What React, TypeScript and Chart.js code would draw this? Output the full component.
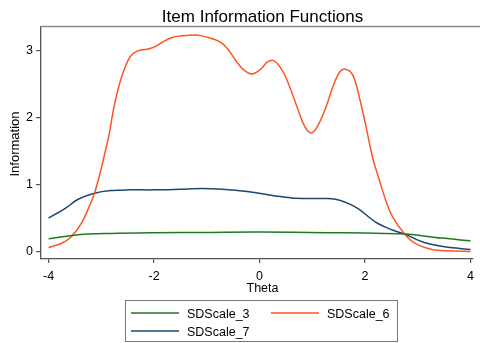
import React, { useEffect, useRef } from "react";
import { Chart, registerables } from "chart.js";

Chart.register(...registerables);

const FONT = "'Liberation Sans', Arial, Helvetica, sans-serif";

const chartTitle = "Item Information Functions";
const xTitle = "Theta";
const yTitle = "Information";
const xTicks = [-4, -2, 0, 2, 4];
const yTicks = [0, 1, 2, 3];

const seriesNames = ["SDScale_3", "SDScale_6", "SDScale_7"];
const seriesColors = ["#1f7a1f", "#ff5522", "#1a476f"];

const theta3 = [-4.0, -3.44, -2.82, -2.0, -1.0, 0.0, 1.27, 2.0, 2.75, 3.45, 4.0];
const info3 = [0.19, 0.25, 0.27, 0.28, 0.285, 0.29, 0.28, 0.275, 0.26, 0.2, 0.16];

const theta6 = [
  -4.0, -3.76, -3.57, -3.38, -3.23, -3.13, -3.04, -2.95, -2.85, -2.76, -2.67, -2.57,
  -2.45, -2.32, -2.13, -2.0, -1.85, -1.67, -1.45, -1.2, -1.0, -0.75, -0.6, -0.45,
  -0.3, -0.14, 0.02, 0.15, 0.27, 0.4, 0.52, 0.71, 0.86, 0.99, 1.12, 1.27, 1.39, 1.52,
  1.63, 1.77, 1.89, 2.02, 2.14, 2.27, 2.39, 2.52, 2.75, 2.95, 3.27, 3.6, 4.0,
];
const info6 = [
  0.06, 0.12, 0.22, 0.42, 0.67, 0.87, 1.12, 1.41, 1.76, 2.16, 2.46, 2.71,
  2.91, 2.99, 3.02, 3.05, 3.12, 3.19, 3.22, 3.23, 3.2, 3.13, 3.02, 2.85,
  2.71, 2.65, 2.72, 2.83, 2.85, 2.74, 2.56, 2.16, 1.86, 1.77, 1.9, 2.18, 2.46, 2.68,
  2.72, 2.63, 2.31, 1.86, 1.41, 1.07, 0.77, 0.52, 0.26, 0.12, 0.03, 0.01, 0.0,
];

const theta7 = [
  -4.0, -3.69, -3.44, -3.13, -2.82, -2.45, -2.0, -1.5, -1.1, -0.7, -0.42, -0.1, 0.3,
  0.6, 1.0, 1.3, 1.5, 1.7, 1.89, 2.2, 2.52, 2.75, 3.14, 3.51, 4.0,
];
const info7 = [
  0.5, 0.64, 0.78, 0.87, 0.91, 0.92, 0.92, 0.93, 0.94, 0.93, 0.91, 0.88, 0.83,
  0.8, 0.79, 0.79, 0.77, 0.71, 0.63, 0.44, 0.32, 0.26, 0.13, 0.07, 0.03,
];

const thetas = [theta3, theta6, theta7];
const infos = [info3, info6, info7];

const decorPlugin = {
  id: "decor",
  afterDraw(chart: any) {
    const ctx = chart.ctx as CanvasRenderingContext2D;
    const area = chart.chartArea;
    ctx.save();
    ctx.strokeStyle = "#8a8a8a";
    ctx.lineWidth = 1.5;
    ctx.beginPath();
    ctx.moveTo(area.left - 0.5, area.top - 0.5);
    ctx.lineTo(480, area.top - 0.5);
    ctx.stroke();

    ctx.fillStyle = "#000";
    ctx.font = `17px ${FONT}`;
    ctx.textAlign = "center";
    ctx.textBaseline = "alphabetic";
    ctx.fillText(chartTitle, 262.5, 21.5);

    ctx.font = `12.5px ${FONT}`;
    ctx.fillText(xTitle, 262.5, 291.5);

    ctx.save();
    ctx.translate(19, 144);
    ctx.rotate(-Math.PI / 2);
    ctx.font = `13px ${FONT}`;
    ctx.fillText(yTitle, 0, 0);
    ctx.restore();

    ctx.strokeStyle = "#777";
    ctx.lineWidth = 1;
    ctx.strokeRect(125.5, 300.5, 272, 41);
    const pos = [
      { x: 131, y: 313 },
      { x: 271, y: 313 },
      { x: 131, y: 331 },
    ];
    ctx.font = `12.5px ${FONT}`;
    ctx.textAlign = "left";
    chart.data.datasets.forEach((ds: any, i: number) => {
      const p = pos[i];
      ctx.strokeStyle = ds.borderColor;
      ctx.lineWidth = 1.5;
      ctx.beginPath();
      ctx.moveTo(p.x, p.y);
      ctx.lineTo(p.x + 48, p.y);
      ctx.stroke();
      ctx.fillStyle = "#000";
      ctx.fillText(ds.label, p.x + 56, p.y + 5);
    });
    ctx.restore();
  },
};

export default function App() {
  const ref = useRef<HTMLCanvasElement>(null);
  useEffect(() => {
    document.body.style.margin = "0";
    const chart = new Chart(ref.current!, {
      type: "line",
      data: {
        datasets: seriesNames.map((name, i) => ({
          label: name,
          data: thetas[i].map((t, j) => ({ x: t, y: infos[i][j] })),
          borderColor: seriesColors[i],
          backgroundColor: seriesColors[i],
          borderWidth: 1.5,
          pointRadius: 0,
          fill: false,
          tension: 0.35,
        })),
      },
      options: {
        responsive: false,
        animation: false,
        layout: { padding: { top: 27, left: 0, right: 2, bottom: 62 } },
        plugins: {
          legend: { display: false },
          title: { display: false },
          tooltip: { enabled: false },
        },
        scales: {
          x: {
            type: "linear",
            min: -4.144,
            max: 4.032,
            afterFit: (s: any) => {
              s.height = 22;
            },
            afterBuildTicks: (s: any) => {
              s.ticks = xTicks.map((v) => ({ value: v }));
            },
            grid: {
              drawOnChartArea: false,
              drawTicks: true,
              tickLength: 4,
              color: "#555",
              lineWidth: 1.2,
            },
            border: { display: true, color: "#555", width: 1.3 },
            ticks: {
              color: "#000",
              font: { family: FONT, size: 12.5 },
              padding: 6,
              maxRotation: 0,
              callback: (v: any) => String(v),
            },
          },
          y: {
            type: "linear",
            min: -0.112,
            max: 3.351,
            afterFit: (s: any) => {
              s.width = 41;
            },
            afterBuildTicks: (s: any) => {
              s.ticks = yTicks.map((v) => ({ value: v }));
            },
            grid: {
              drawOnChartArea: false,
              drawTicks: true,
              tickLength: 5,
              color: "#555",
              lineWidth: 1.2,
            },
            border: { display: true, color: "#555", width: 1.3 },
            ticks: {
              color: "#000",
              font: { family: FONT, size: 12.5 },
              padding: 3,
              callback: (v: any) => String(v),
            },
          },
        },
      },
      plugins: [decorPlugin],
    });
    return () => chart.destroy();
  }, []);
  return (
    <div style={{ position: "fixed", left: 0, top: 0, width: 480, height: 343, background: "#fff" }}>
      <canvas ref={ref} width={480} height={343} style={{ display: "block" }} />
    </div>
  );
}
